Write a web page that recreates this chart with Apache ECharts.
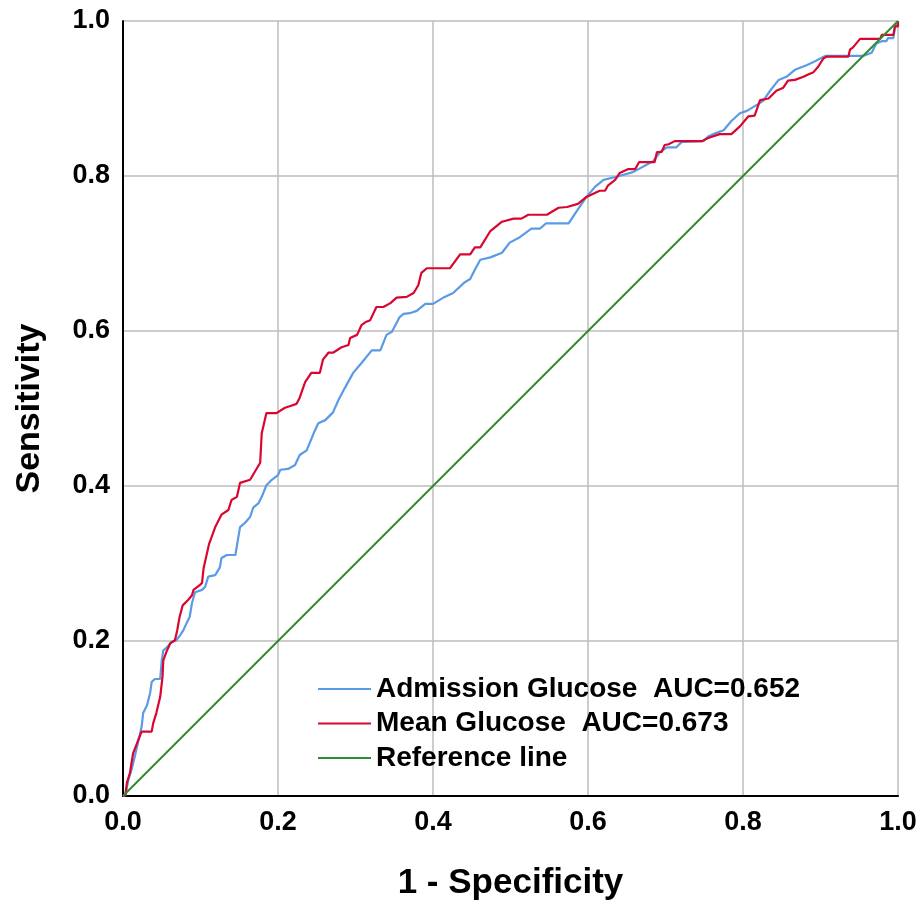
<!DOCTYPE html>
<html>
<head>
<meta charset="utf-8">
<script src="https://cdn.jsdelivr.net/npm/echarts@6/dist/echarts.min.js"></script>
<style>html,body{margin:0;padding:0;background:#fff;}#c{width:921px;height:906px;}</style>
</head>
<body>
<div id="c"></div>
<script>
// ---- data ----
const xTicks = [0.0, 0.2, 0.4, 0.6, 0.8, 1.0];
const yTicks = [0.0, 0.2, 0.4, 0.6, 0.8, 1.0];
const seriesNames = ['Admission Glucose  AUC=0.652', 'Mean Glucose  AUC=0.673', 'Reference line'];

const admissionFPR = [0,0.003,0.007,0.011,0.015,0.020,0.024,0.026,0.031,0.035,0.037,0.041,0.048,0.050,0.052,0.056,0.063,0.069,0.074,0.078,0.082,0.086,0.089,0.093,0.102,0.106,0.110,0.119,0.125,0.127,0.134,0.145,0.151,0.157,0.164,0.168,0.175,0.179,0.185,0.192,0.200,0.203,0.213,0.222,0.228,0.237,0.246,0.252,0.261,0.271,0.278,0.286,0.297,0.308,0.321,0.332,0.340,0.347,0.357,0.362,0.370,0.379,0.390,0.400,0.415,0.426,0.441,0.448,0.454,0.461,0.474,0.489,0.499,0.512,0.527,0.538,0.546,0.575,0.585,0.598,0.609,0.620,0.637,0.658,0.684,0.693,0.702,0.714,0.721,0.749,0.755,0.764,0.775,0.785,0.796,0.805,0.820,0.826,0.835,0.846,0.856,0.867,0.882,0.893,0.906,0.955,0.966,0.972,0.979,0.985,0.987,0.994,0.996,1.0];
const admissionTPR = [0,0.001,0.021,0.034,0.050,0.072,0.089,0.107,0.117,0.133,0.147,0.151,0.151,0.175,0.188,0.191,0.199,0.201,0.208,0.214,0.223,0.231,0.249,0.263,0.266,0.270,0.283,0.285,0.295,0.307,0.311,0.311,0.347,0.352,0.360,0.372,0.378,0.386,0.401,0.408,0.414,0.421,0.422,0.427,0.440,0.446,0.468,0.481,0.485,0.495,0.511,0.526,0.546,0.559,0.575,0.575,0.595,0.599,0.618,0.622,0.623,0.626,0.635,0.635,0.644,0.649,0.663,0.667,0.679,0.692,0.695,0.701,0.714,0.721,0.732,0.732,0.739,0.739,0.754,0.773,0.786,0.795,0.799,0.805,0.819,0.831,0.837,0.837,0.844,0.845,0.851,0.855,0.859,0.871,0.881,0.884,0.893,0.897,0.910,0.924,0.928,0.937,0.943,0.948,0.955,0.955,0.959,0.971,0.974,0.974,0.978,0.978,0.991,1.0];

const meanFPR = [0,0.003,0.005,0.009,0.013,0.018,0.024,0.037,0.039,0.043,0.048,0.051,0.052,0.056,0.061,0.067,0.070,0.073,0.077,0.084,0.089,0.091,0.099,0.102,0.104,0.111,0.119,0.127,0.136,0.140,0.147,0.151,0.164,0.177,0.179,0.185,0.198,0.209,0.215,0.224,0.228,0.235,0.243,0.254,0.258,0.265,0.271,0.282,0.291,0.293,0.302,0.308,0.314,0.319,0.327,0.336,0.345,0.353,0.366,0.375,0.381,0.385,0.392,0.422,0.435,0.448,0.454,0.461,0.474,0.489,0.504,0.514,0.523,0.547,0.562,0.573,0.587,0.598,0.615,0.622,0.626,0.635,0.641,0.652,0.661,0.666,0.686,0.689,0.695,0.699,0.704,0.712,0.747,0.755,0.770,0.785,0.796,0.807,0.815,0.822,0.833,0.843,0.852,0.858,0.867,0.878,0.884,0.891,0.897,0.904,0.908,0.936,0.938,0.942,0.951,0.977,0.979,0.994,0.996,1.0,1.0];
const meanTPR = [0,0.001,0.017,0.030,0.055,0.068,0.083,0.083,0.094,0.107,0.128,0.154,0.175,0.186,0.197,0.201,0.214,0.231,0.246,0.253,0.259,0.266,0.272,0.275,0.294,0.325,0.347,0.363,0.369,0.382,0.386,0.404,0.408,0.430,0.468,0.494,0.494,0.501,0.503,0.506,0.514,0.534,0.546,0.546,0.563,0.572,0.572,0.579,0.582,0.591,0.595,0.608,0.612,0.614,0.631,0.631,0.636,0.643,0.644,0.649,0.659,0.675,0.681,0.681,0.699,0.699,0.708,0.708,0.729,0.741,0.745,0.745,0.750,0.750,0.759,0.760,0.764,0.773,0.781,0.781,0.788,0.795,0.804,0.809,0.809,0.818,0.818,0.831,0.831,0.840,0.841,0.845,0.845,0.849,0.854,0.854,0.864,0.877,0.878,0.898,0.900,0.910,0.914,0.923,0.924,0.928,0.931,0.934,0.941,0.952,0.954,0.954,0.963,0.966,0.977,0.977,0.982,0.982,0.993,0.993,1.0];

const refFPR = [0, 1];
const refTPR = [0, 1];

const colors = ['#5a9be6', '#d9062f', '#2e8b2e'];

function pairs(xs, ys) { return xs.map((x, i) => [x, ys[i]]); }

const FONT = '"Liberation Sans", Arial, sans-serif';
const chart = echarts.init(document.getElementById('c'), null, {renderer: 'canvas'});
chart.setOption({
  animation: false,
  backgroundColor: '#ffffff',
  grid: {left: 123, right: 23, top: 21, bottom: 110, containLabel: false},
  xAxis: {
    type: 'value', min: 0, max: 1, interval: 0.2,
    name: '1 - Specificity', nameLocation: 'middle', nameGap: 70,
    nameTextStyle: {fontFamily: FONT, fontWeight: 'bold', fontSize: 35, color: '#000'},
    axisLine: {show: true, lineStyle: {color: '#000', width: 2}},
    axisTick: {show: false},
    axisLabel: {fontFamily: FONT, fontWeight: 'bold', fontSize: 27, color: '#000', margin: 13,
      formatter: v => v.toFixed(1)},
    splitLine: {show: true, lineStyle: {color: '#bdbdbd', width: 1.5}}
  },
  yAxis: {
    type: 'value', min: 0, max: 1, interval: 0.2,
    name: 'Sensitivity', nameLocation: 'middle', nameGap: 76,
    nameTextStyle: {fontFamily: FONT, fontWeight: 'bold', fontSize: 34, color: '#000'},
    axisLine: {show: true, lineStyle: {color: '#000', width: 2}},
    axisTick: {show: false},
    axisLabel: {fontFamily: FONT, fontWeight: 'bold', fontSize: 27, color: '#000', margin: 13,
      formatter: v => v.toFixed(1)},
    splitLine: {show: true, lineStyle: {color: '#bdbdbd', width: 1.5}}
  },
  legend: {
    orient: 'vertical', left: 318, top: 675, padding: 0,
    data: seriesNames,
    icon: 'rect', itemWidth: 53, itemHeight: 2, itemGap: 6.5,
    textStyle: {fontFamily: FONT, fontWeight: 'bold', fontSize: 28, color: '#000', lineHeight: 28}
  },
  series: [
    {name: seriesNames[0], type: 'line', data: pairs(admissionFPR, admissionTPR), symbol: 'none',
      lineStyle: {color: colors[0], width: 2.2}, itemStyle: {color: colors[0]}},
    {name: seriesNames[1], type: 'line', data: pairs(meanFPR, meanTPR), symbol: 'none',
      lineStyle: {color: colors[1], width: 2.2}, itemStyle: {color: colors[1]}},
    {name: seriesNames[2], type: 'line', data: pairs(refFPR, refTPR), symbol: 'none',
      lineStyle: {color: colors[2], width: 2}, itemStyle: {color: colors[2]}}
  ]
});
</script>
</body>
</html>
